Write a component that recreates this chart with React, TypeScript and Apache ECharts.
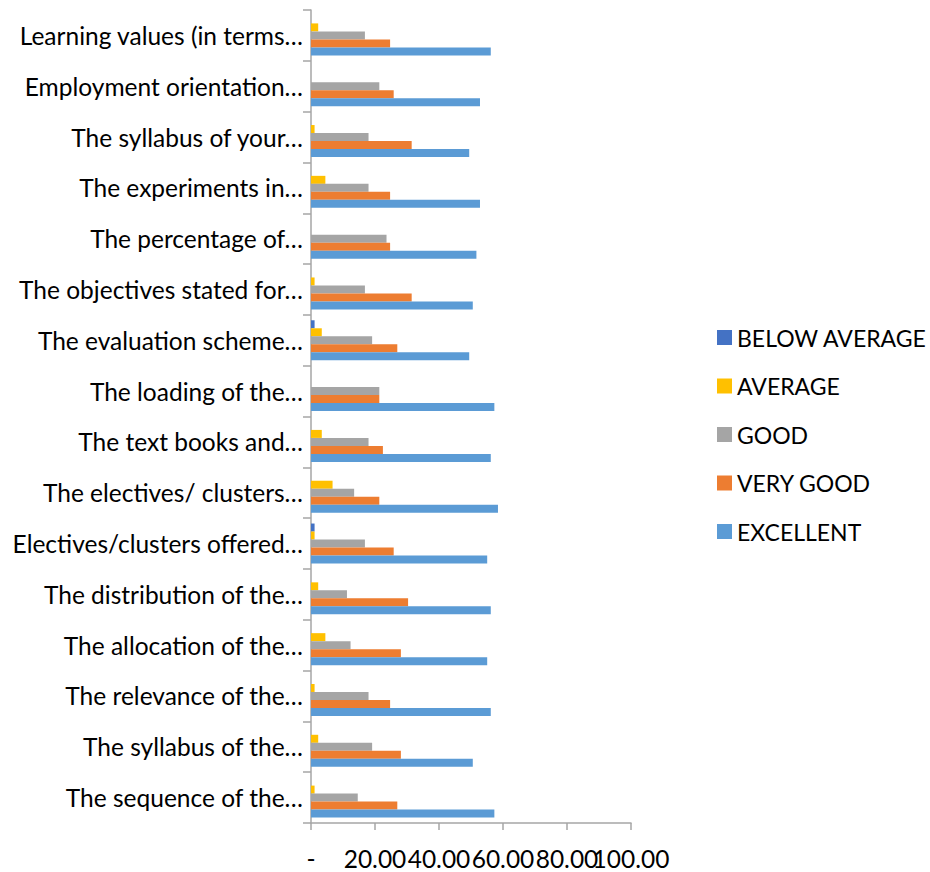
import React, { useEffect, useRef } from "react";
import * as echarts from "echarts";

const categories = [
  "Learning values (in terms…",
  "Employment orientation…",
  "The syllabus of your…",
  "The experiments in…",
  "The percentage of…",
  "The objectives stated for…",
  "The evaluation scheme…",
  "The loading of the…",
  "The text books and…",
  "The electives/ clusters…",
  "Electives/clusters offered…",
  "The distribution of the…",
  "The allocation of the…",
  "The relevance of the…",
  "The syllabus of the…",
  "The sequence of the…",
];

const xTickLabels = ["-", "20.00", "40.00", "60.00", "80.00", "100.00"];

const belowAverage = [0, 0, 0, 0, 0, 0, 1.12, 0, 0, 0, 1.12, 0, 0, 0, 0, 0];
const average = [2.25, 0, 1.12, 4.49, 0, 1.12, 3.37, 0, 3.37, 6.74, 1.12, 2.25, 4.49, 1.12, 2.25, 1.12];
const good = [16.85, 21.35, 17.98, 17.98, 23.6, 16.85, 19.1, 21.35, 17.98, 13.48, 16.85, 11.24, 12.36, 17.98, 19.1, 14.61];
const veryGood = [24.72, 25.84, 31.46, 24.72, 24.72, 31.46, 26.97, 21.35, 22.47, 21.35, 25.84, 30.34, 28.09, 24.72, 28.09, 26.97];
const excellent = [56.18, 52.81, 49.44, 52.81, 51.69, 50.56, 49.44, 57.3, 56.18, 58.43, 55.06, 56.18, 55.06, 56.18, 50.56, 57.3];

const seriesNames = ["BELOW AVERAGE", "AVERAGE", "GOOD", "VERY GOOD", "EXCELLENT"];
const seriesColors = ["#4472C4", "#FFC000", "#A5A5A5", "#ED7D31", "#5B9BD5"];
const seriesData = [belowAverage, average, good, veryGood, excellent];

const FONT = "Lato, 'Liberation Sans', sans-serif";

export default function App() {
  const ref = useRef<HTMLDivElement>(null);
  useEffect(() => {
    document.body.style.margin = "0";
    const chart = echarts.init(ref.current!, null, { renderer: "svg" });
    chart.setOption({
      animation: false,
      backgroundColor: "#ffffff",
      grid: { left: 311, top: 10, right: 299, bottom: 49, containLabel: false },
      legend: {
        orient: "vertical",
        left: 712,
        top: 321,
        itemWidth: 15,
        itemHeight: 15,
        itemGap: 25.5,
        icon: "rect",
        data: seriesNames,
        textStyle: { fontFamily: FONT, fontSize: 23, color: "#000" },
      },
      xAxis: [
        {
          type: "value",
          min: 0,
          max: 100,
          interval: 20,
          splitLine: { show: false },
          axisLine: { show: true, lineStyle: { color: "#a6a6a6", width: 1.5 } },
          axisTick: { show: true, length: 7, lineStyle: { color: "#a6a6a6", width: 1.5 } },
          axisLabel: { show: false },
        },
        {
          type: "category",
          position: "bottom",
          boundaryGap: false,
          data: xTickLabels,
          axisLine: { show: false },
          axisTick: { show: false },
          splitLine: { show: false },
          axisLabel: {
            interval: 0,
            margin: 23,
            fontFamily: FONT,
            fontSize: 24.5,
            color: "#000",
            hideOverlap: false,
          },
        },
      ],
      yAxis: {
        type: "category",
        inverse: true,
        data: categories,
        axisLine: { show: true, lineStyle: { color: "#a6a6a6", width: 1.5 } },
        axisTick: { show: true, length: 8, lineStyle: { color: "#a6a6a6", width: 1.5 } },
        axisLabel: { margin: 8, fontFamily: FONT, fontSize: 24.5, color: "#000" },
      },
      series: seriesNames.map((name, i) => ({
        name,
        type: "bar",
        xAxisIndex: 0,
        data: seriesData[i],
        barWidth: 8,
        barGap: "0%",
        itemStyle: { color: seriesColors[i] },
      })),
    });
    return () => chart.dispose();
  }, []);
  return <div ref={ref} style={{ width: 930, height: 872 }} />;
}
